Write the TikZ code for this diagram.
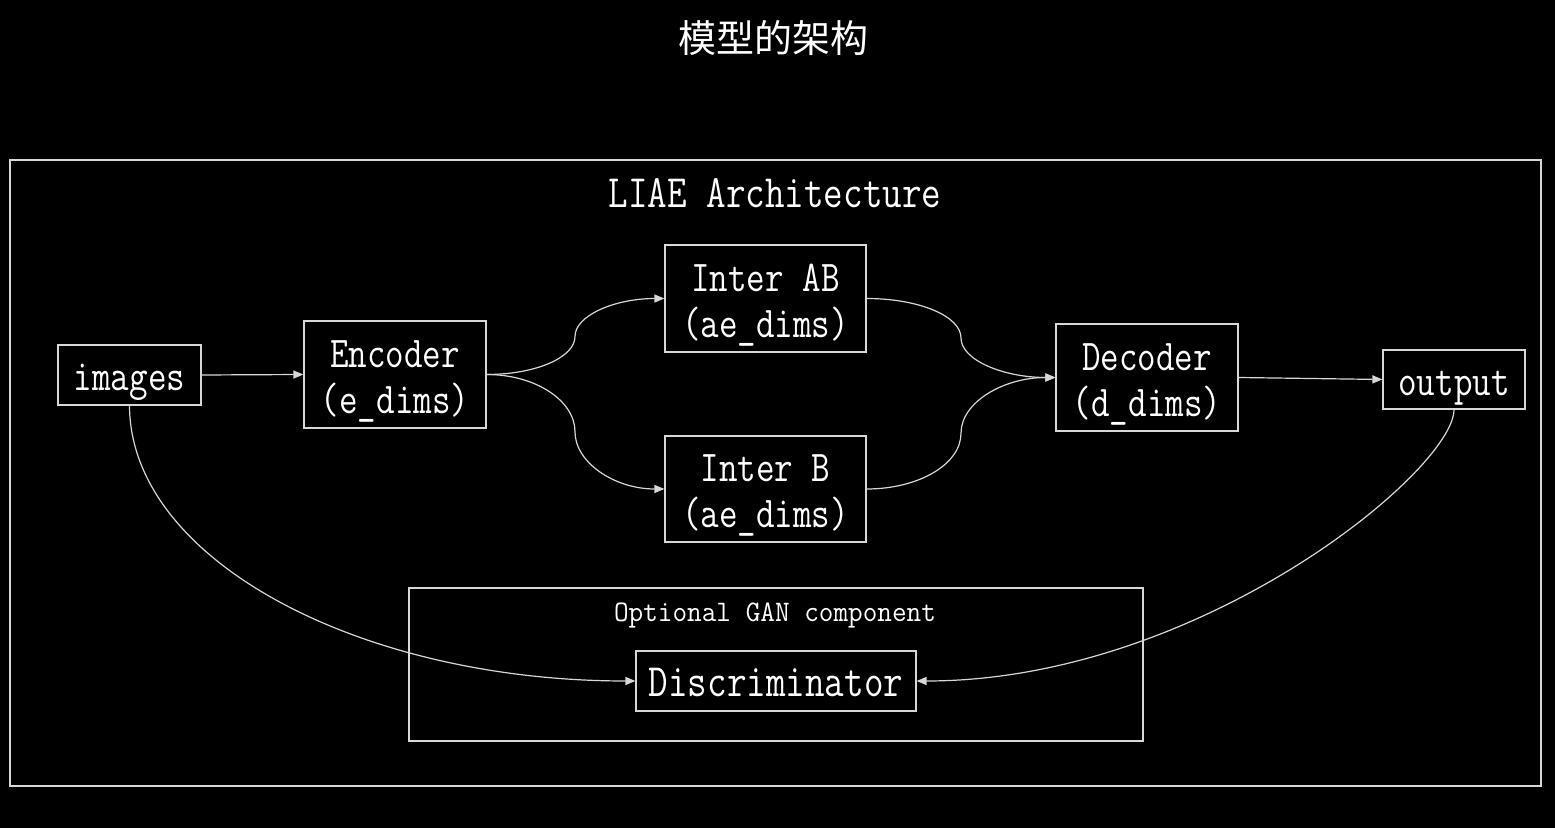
\documentclass[tikz,border=0pt]{standalone}
\usepackage{fontspec}
\usepackage{graphicx}
\newfontfamily\cjkfont{Noto Sans CJK SC}
\usetikzlibrary{arrows.meta}
\definecolor{ln}{RGB}{215,215,215}
\newcommand{\tx}[1]{\rule[-5pt]{0pt}{26pt}\scalebox{1}[1.22]{#1}}
\newcommand{\nolskip}{\lineskiplimit=-100pt\relax}
\begin{document}
\begin{tikzpicture}[x=0.5pt,y=-0.5pt,
  box/.style={draw=ln, line width=0.6pt, text=white, inner sep=0pt,
    font={\ttfamily\fontsize{18}{23}\selectfont\nolskip}, align=center},
  frame/.style={draw=ln, line width=0.6pt, inner sep=0pt},
  lbl/.style={text=white, inner sep=0pt},
  conn/.style={draw=ln, line width=0.6pt, -{Triangle[length=5pt,width=4pt]}}
]
\fill[black] (0,0) rectangle (1555,828);
\useasboundingbox (0,0) rectangle (1555,828);

% title
\node[lbl, font=\cjkfont\fontsize{19}{21}\selectfont] (title) at (773,38) {模型的架构};

% frames
\node[frame, minimum width=765.5pt, minimum height=313pt] (outer) at (775.5,473) {};
\node[lbl, font=\ttfamily\fontsize{19}{22}\selectfont] (arch) at (775,193) {\scalebox{1}[1.22]{LIAE Architecture}};
\node[frame, minimum width=367pt, minimum height=76.5pt] (gan) at (776,664.5) {};
\node[lbl, font=\ttfamily\fontsize{14.2}{16}\selectfont] (ganlbl) at (775,615) {\scalebox{1}[1.05]{Optional GAN component}};

% nodes
\node[box, minimum width=71.5pt, minimum height=30pt] (img) at (129.5,375) {\tx{images}};
\node[box, minimum width=91pt, minimum height=53.5pt] (enc) at (395,374.5) {\tx{Encoder}\\\tx{(e\_dims)}};
\node[box, minimum width=100.5pt, minimum height=53.5pt] (iab) at (765.5,298.5) {\tx{Inter AB}\\\tx{(ae\_dims)}};
\node[box, minimum width=100.5pt, minimum height=53pt] (ib) at (765.5,489) {\tx{Inter B}\\\tx{(ae\_dims)}};
\node[box, minimum width=91pt, minimum height=53.5pt] (dec) at (1147,377.5) {\tx{Decoder}\\\tx{(d\_dims)}};
\node[box, minimum width=71pt, minimum height=29.5pt] (out) at (1454,379.5) {\tx{output}};
\node[box, minimum width=140pt, minimum height=30pt, font={\ttfamily\fontsize{19}{23}\selectfont\nolskip}] (disc) at (776,681) {\tx{Discriminator}};

% bend points
\coordinate (m1) at (575,336.5);
\coordinate (m2) at (575,431.75);
\coordinate (m3) at (961,338);
\coordinate (m4) at (961,433.25);

% connectors
\draw[conn] (img.east) -- (enc.west);
\draw[conn] (enc.east) .. controls +(49,0) and +(0,21) .. (m1) .. controls +(0,-21) and +(-49.5,0) .. (iab.west);
\draw[conn] (enc.east) .. controls +(49,0) and +(0,-31) .. (m2) .. controls +(0,31) and +(-49.5,0) .. (ib.west);
\draw[conn] (iab.east) .. controls +(52,0) and +(0,-22) .. (m3) .. controls +(0,22) and +(-52,0) .. (dec.west);
\draw[conn] (ib.east) .. controls +(52,0) and +(0,31) .. (m4) .. controls +(0,-31) and +(-52,0) .. (dec.west);
\draw[conn] (dec.east) -- (out.west);
\draw[conn] (img.south) .. controls (130,560) and (360,681) .. (disc.west);
\draw[conn] (out.south) .. controls (1454,470) and (1200,681) .. (disc.east);
\end{tikzpicture}
\end{document}
